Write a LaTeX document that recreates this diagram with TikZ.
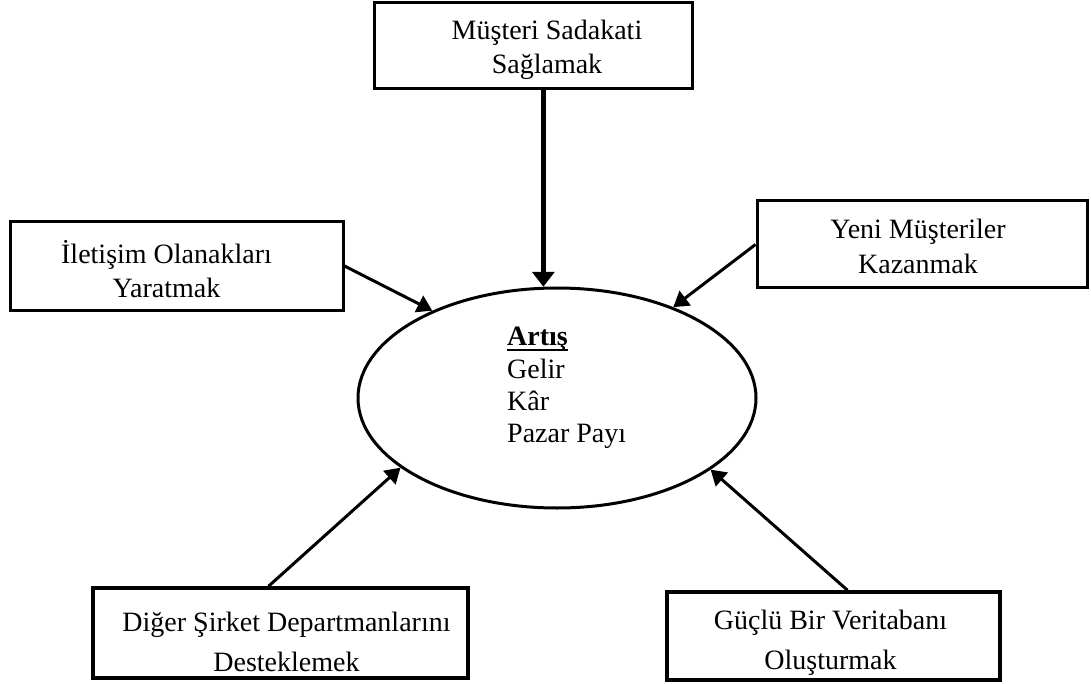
\documentclass[tikz,border=0pt]{standalone}
\usepackage{fontspec}
\setmainfont{Liberation Serif}
\usetikzlibrary{arrows.meta,shapes.geometric,calc}

% bold heading with a heavy rule just under the baseline
\newcommand\headul[1]{\setbox0\hbox{\textbf{#1}}\rlap{\rule[-5.5pt]{\wd0}{2.6pt}}\box0}

\begin{document}
\begin{tikzpicture}[x=1pt,y=-1pt,
  box/.style={draw, line width=3pt, rectangle, inner sep=0pt},
  lowbox/.style={box, line width=3.5pt},
  boxtext/.style={inner sep=0pt, align=center, font=\fontsize{28}{34.5}\selectfont},
  lowtext/.style={boxtext, font=\fontsize{28}{40}\selectfont},
  link/.style={line width=3pt, -{Triangle[length=15pt,width=18pt]}},
  mainlink/.style={line width=4.5pt, -{Triangle[length=15pt,width=22pt]}},
]
\useasboundingbox (0,0) rectangle (1091,684);

% goal boxes
\node[box, minimum width=318pt, minimum height=86pt] (loyal) at (533,46) {};
\node[box, minimum width=333pt, minimum height=88pt] (comm) at (176.5,266) {};
\node[box, minimum width=330pt, minimum height=87pt] (newc) at (922,244.5) {};
\node[lowbox, minimum width=375pt, minimum height=90pt] (dept) at (280.5,633) {};
\node[lowbox, minimum width=333pt, minimum height=88pt] (db) at (833.5,636) {};

% their captions
\node[boxtext] (loyaltxt) at ($(loyal)+(14,4)$) {Müşteri Sadakati\\Sağlamak};
\node[boxtext] (commtxt) at ($(comm)+(-10,3)$) {İletişim Olanakları\\Yaratmak};
\node[boxtext] (newctxt) at ($(newc)+(-4,2)$) {Yeni Müşteriler\\Kazanmak};
\node[lowtext] (depttxt) at ($(dept)+(6,9)$) {Diğer Şirket Departmanlarını\\Desteklemek};
\node[lowtext] (dbtxt) at ($(db)+(-3,7)$) {Güçlü Bir Veritabanı\\Oluşturmak};

% central ellipse
\node[ellipse, draw, line width=3pt, minimum width=398pt, minimum height=220pt,
      inner sep=0pt] (gain) at (557,398) {};
\node[anchor=north west, inner sep=0pt, align=left,
      font=\fontsize{28}{32.4}\selectfont] (gaintext) at (507,327)
  {\headul{Artış}\\Gelir\\Kâr\\Pazar Payı};

% connectors
\draw[mainlink] (loyal.south -| gain.97) -- (gain.97);
\draw[link] (comm.east) -- (gain.145);
\draw[link] (newc.west) -- (gain.38);
\draw[link] ($(dept.north)+(-12,0)$) -- (gain.204);
\draw[link] ($(db.north)+(14,0)$) -- (gain.335);
\end{tikzpicture}
\end{document}
